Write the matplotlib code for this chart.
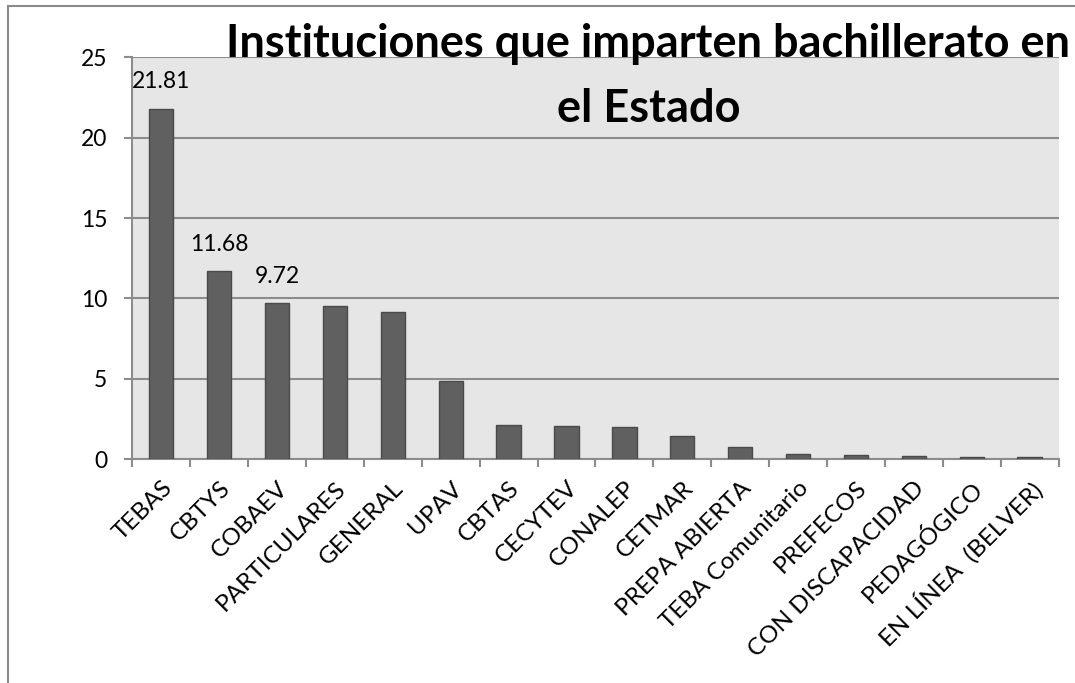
import matplotlib
matplotlib.use("Agg")
import matplotlib.pyplot as plt
from matplotlib.lines import Line2D

plt.rcParams['font.family'] = ['Lato', 'DejaVu Sans']

categories = ["TEBAS", "CBTYS", "COBAEV", "PARTICULARES", "GENERAL", "UPAV",
              "CBTAS", "CECYTEV", "CONALEP", "CETMAR", "PREPA ABIERTA",
              "TEBA Comunitario", "PREFECOS", "CON DISCAPACIDAD", "PEDAGÓGICO",
              "EN LÍNEA  (BELVER)"]
values = [21.81, 11.68, 9.72, 9.53, 9.14, 4.87, 2.11, 2.07, 2.01, 1.45, 0.78,
          0.35, 0.25, 0.22, 0.16, 0.12]
labeled = [21.81, 11.68, 9.72]
y_ticks = [0, 5, 10, 15, 20, 25]
title_lines = ["Instituciones que imparten bachillerato en", "el Estado"]

W, H = 1075, 683
fig = plt.figure(figsize=(W / 100, H / 100), dpi=100)
fig.patch.set_facecolor("white")

ax = fig.add_axes([132.3 / W, 1 - 459.3 / H, (1058.5 - 132.3) / W, (459.3 - 57.3) / H])
ax.set_facecolor("#e6e6e6")

n = len(categories)
xs = list(range(n))
ax.bar(xs, values, width=0.42, color="#606060", edgecolor="#4a4a4a", linewidth=1.0, zorder=3)

ax.set_xlim(-0.5, n - 0.5)
ax.set_ylim(0, 25)
ax.set_yticks(y_ticks)
ax.set_yticklabels([str(t) for t in y_ticks], fontsize=16.5)
ax.yaxis.grid(True, color="#8c8c8c", linewidth=1.5, zorder=1)
ax.set_axisbelow(True)

# major ticks at category boundaries, labels at centers via minor ticks
ax.set_xticks([k - 0.5 for k in range(n + 1)])
ax.set_xticklabels([])
ax.set_xticks(xs, minor=True)
ax.set_xticklabels(categories, minor=True, rotation=45, ha="right",
                   rotation_mode="anchor", fontsize=17.5)
ax.tick_params(axis="x", which="minor", length=0, pad=13)
ax.tick_params(axis="x", which="major", length=6, width=1.5, color="#8c8c8c", direction="out")
ax.tick_params(axis="y", length=6, width=1.5, color="#8c8c8c", direction="out", pad=12)

for s in ["top", "right"]:
    ax.spines[s].set_visible(False)
for s in ["left", "bottom"]:
    ax.spines[s].set_color("#8c8c8c")
    ax.spines[s].set_linewidth(1.5)

for x, v in zip(xs, values):
    if v in labeled:
        ax.annotate(f"{v:.2f}", xy=(x, v), xytext=(0, 19.4), textcoords="offset points",
                    ha="center", va="center", fontsize=16.5, zorder=5)

fig.text(648 / W, 1 - 57 / H, title_lines[0], ha="center", va="baseline",
         fontsize=32.5, fontweight="bold", color="black")
fig.text(649 / W, 1 - 122 / H, title_lines[1], ha="center", va="baseline",
         fontsize=32.5, fontweight="bold", color="black")

# outer chart border (left and top visible)
fig.add_artist(Line2D([8.3 / W, 8.3 / W], [0, 1 - 6 / H], transform=fig.transFigure,
                      color="#8a8a8a", linewidth=1.5))
fig.add_artist(Line2D([8.3 / W, 1], [1 - 6 / H, 1 - 6 / H], transform=fig.transFigure,
                      color="#8a8a8a", linewidth=1.5))

fig.savefig("out.png", dpi=100)
